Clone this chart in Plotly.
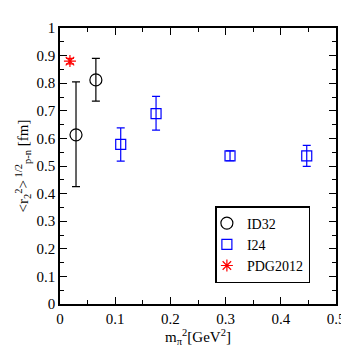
import plotly.graph_objects as go

# Data
id32_x = [0.029, 0.065]
id32_y = [0.613, 0.812]
id32_err_plus = [0.192, 0.078]
id32_err_minus = [0.188, 0.077]

i24_x = [0.110, 0.174, 0.308, 0.447]
i24_y = [0.578, 0.690, 0.537, 0.537]
i24_err_plus = [0.060, 0.062, 0.018, 0.038]
i24_err_minus = [0.060, 0.060, 0.018, 0.038]

pdg_x = [0.018]
pdg_y = [0.880]
pdg_err = [0.010]

x_ticks = [0, 0.1, 0.2, 0.3, 0.4, 0.5]
x_tick_labels = ["0", "0.1", "0.2", "0.3", "0.4", "0.5"]
y_ticks = [0, 0.1, 0.2, 0.3, 0.4, 0.5, 0.6, 0.7, 0.8, 0.9, 1.0]
y_tick_labels = ["0", "0.1", "0.2", "0.3", "0.4", "0.5", "0.6", "0.7", "0.8", "0.9", "1"]

FONT = "Liberation Serif"

fig = go.Figure()
fig.add_trace(go.Scatter(
    x=id32_x, y=id32_y, mode="markers", name="ID32",
    marker=dict(symbol="circle-open", size=12, color="black", line=dict(width=1.2)),
    error_y=dict(type="data", array=id32_err_plus, arrayminus=id32_err_minus,
                 color="black", thickness=1.2, width=4),
))
fig.add_trace(go.Scatter(
    x=i24_x, y=i24_y, mode="markers", name="I24",
    marker=dict(symbol="square-open", size=10, color="blue", line=dict(width=1.2)),
    error_y=dict(type="data", array=i24_err_plus, arrayminus=i24_err_minus,
                 color="blue", thickness=1.2, width=4),
))
fig.add_trace(go.Scatter(
    x=pdg_x, y=pdg_y, mode="markers", name="PDG2012",
    marker=dict(symbol="asterisk-open", size=10, color="red", line=dict(width=1.2, color="red")),
    error_y=dict(type="data", array=pdg_err, color="red", thickness=1.2, width=4),
))

axis_common = dict(
    showgrid=False, zeroline=False, showline=True, linecolor="black", linewidth=1.5,
    mirror="ticks", ticks="inside", ticklen=7, tickwidth=1, tickcolor="black",
    tickfont=dict(family=FONT, size=15, color="black"),
)
fig.update_xaxes(
    range=[0, 0.5], tickvals=x_ticks, ticktext=x_tick_labels,
    minor=dict(dtick=0.05, ticks="inside", ticklen=4, tickcolor="black", showgrid=False),
    title=dict(text="m<sub>π</sub><sup>2</sup>[GeV<sup>2</sup>]", font=dict(family=FONT, size=15, color="black"), standoff=3),
    **axis_common,
)
fig.update_yaxes(
    range=[0, 1], tickvals=y_ticks, ticktext=y_tick_labels,
    minor=dict(dtick=0.05, ticks="inside", ticklen=4, tickcolor="black", showgrid=False),
    title=dict(text="&lt;r<sub>2</sub><sup>2</sup>&gt;<sup> 1/2</sup><sub>p-n</sub> [fm]", font=dict(family=FONT, size=15, color="black"), standoff=4),
    **axis_common,
)
fig.update_layout(
    width=349, height=349,
    margin=dict(l=52, r=18, t=17, b=53),
    paper_bgcolor="white", plot_bgcolor="white",
    showlegend=True,
    legend=dict(x=0.563, y=0.355, xanchor="left", yanchor="top",
                bgcolor="white", bordercolor="black", borderwidth=1.5,
                font=dict(family=FONT, size=14, color="black"),
                itemwidth=30, tracegroupgap=0, indentation=-10),
    font=dict(family=FONT, color="black"),
)
fig.write_html("out.html")
